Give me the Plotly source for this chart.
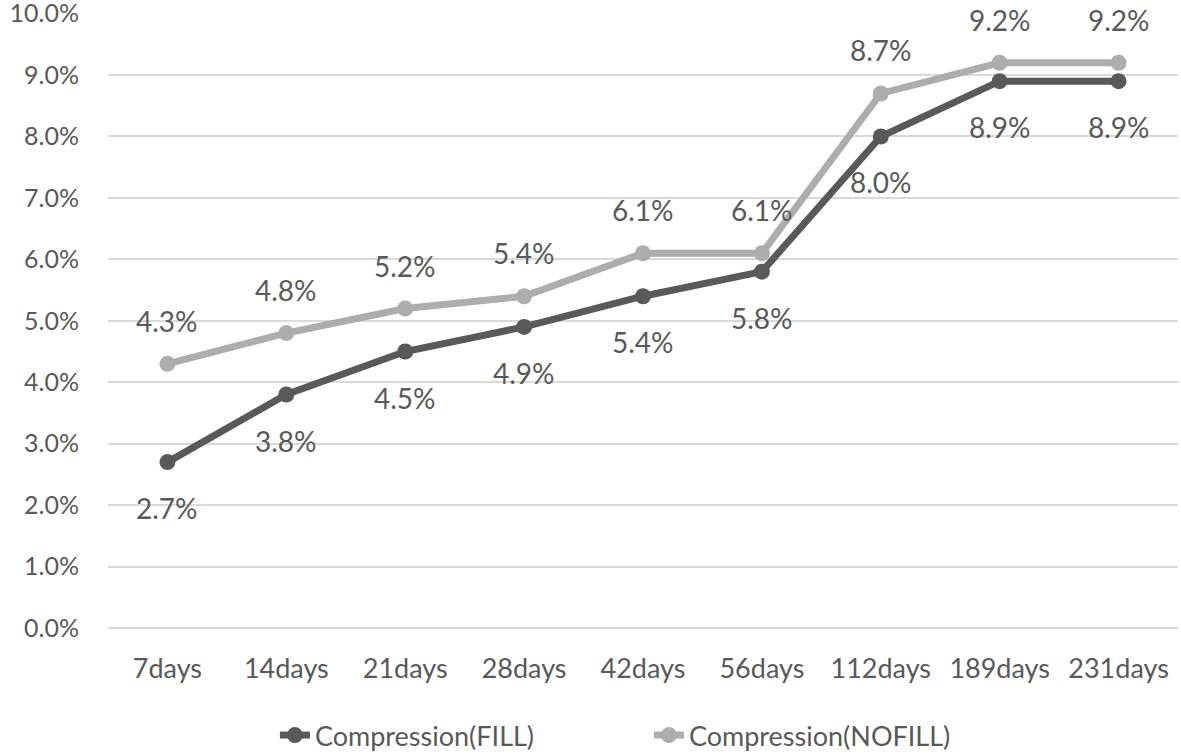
import plotly.graph_objects as go

categories = ["7days", "14days", "21days", "28days", "42days", "56days", "112days", "189days", "231days"]
fill_vals = [2.7, 3.8, 4.5, 4.9, 5.4, 5.8, 8.0, 8.9, 8.9]
nofill_vals = [4.3, 4.8, 5.2, 5.4, 6.1, 6.1, 8.7, 9.2, 9.2]
y_ticks = [0, 1, 2, 3, 4, 5, 6, 7, 8, 9, 10]

FONT = "Lato, Liberation Sans, sans-serif"
TXT = "#595959"
DARK = "#595959"
LIGHT = "#ADADAD"

fig = go.Figure()
fig.add_trace(go.Scatter(
    x=categories, y=fill_vals, name="Compression(FILL)",
    mode="lines+markers",
    line=dict(color=DARK, width=7),
    marker=dict(color=DARK, size=16),
    cliponaxis=False,
))
fig.add_trace(go.Scatter(
    x=categories, y=nofill_vals, name="Compression(NOFILL)",
    mode="lines+markers",
    line=dict(color=LIGHT, width=7),
    marker=dict(color=LIGHT, size=16),
    cliponaxis=False,
))

annotations = []
for c, v in zip(categories, fill_vals):
    annotations.append(dict(x=c, y=v, text=f"{v:.1f}%", showarrow=False, yshift=-46,
                            font=dict(family=FONT, size=28, color=TXT)))
for c, v in zip(categories, nofill_vals):
    annotations.append(dict(x=c, y=v, text=f"{v:.1f}%", showarrow=False, yshift=43,
                            font=dict(family=FONT, size=28, color=TXT)))

fig.update_layout(
    width=1181, height=756,
    margin=dict(l=108, r=3, t=13, b=128, autoexpand=False),
    plot_bgcolor="white", paper_bgcolor="white",
    font=dict(family=FONT, size=26, color=TXT),
    showlegend=True,
    annotations=annotations,
    legend=dict(orientation="h", x=0.156, xanchor="left", y=-0.135, yanchor="top",
                entrywidth=329, entrywidthmode="pixels",
                font=dict(family=FONT, size=27, color=TXT)),
    xaxis=dict(type="category", range=[-0.5, 8.5], showgrid=False, showline=False,
               ticks="", tickfont=dict(family=FONT, size=27, color=TXT), ticklabelstandoff=22),
    yaxis=dict(range=[0, 10.01], tickvals=y_ticks, ticktext=[f"{v:.1f}%" for v in y_ticks],
               showgrid=True, gridcolor="#D9D9D9", gridwidth=2, zeroline=True,
               zerolinecolor="#D9D9D9", zerolinewidth=2, showline=False, automargin=False,
               ticklabeloverflow="allow",
               tickfont=dict(family=FONT, size=25, color=TXT), ticklabelstandoff=28),
)
fig.write_html("out.html", config={"displayModeBar": False},
               post_script="document.body.style.margin='0';")
